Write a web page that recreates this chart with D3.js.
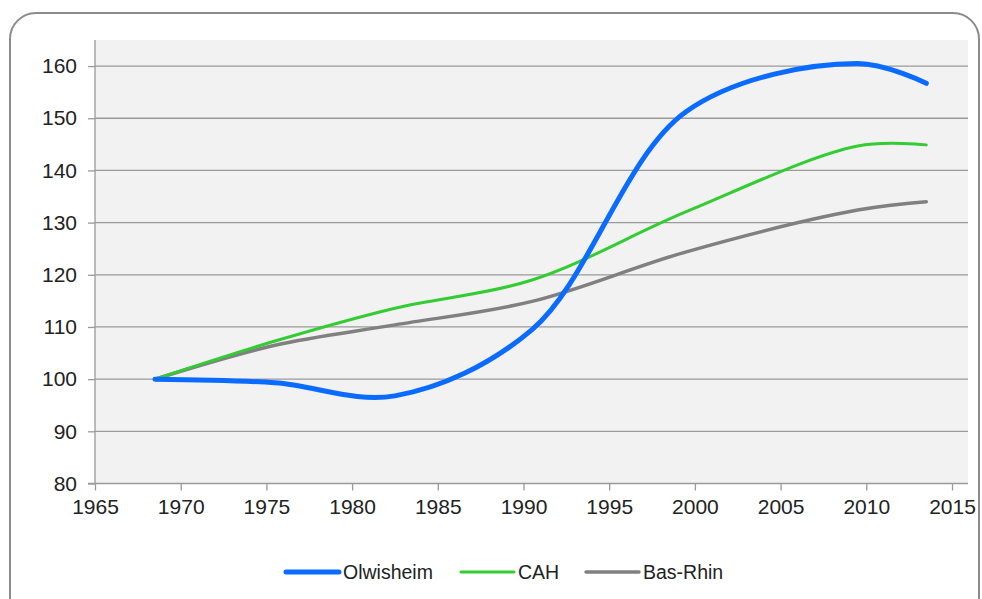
<!DOCTYPE html>
<html>
<head>
<meta charset="utf-8">
<script src="https://cdn.jsdelivr.net/npm/d3@7"></script>
<style>
  body { margin: 0; background: #fff; }
  text { font-family: "Liberation Sans", Arial, sans-serif; fill: #222; }
</style>
</head>
<body>
<div id="chart-area"></div>
<script>
// census points (placed mid-year as in the source chart), index base 100 in 1968
var years = [1968.5, 1975.5, 1982.5, 1990.5, 1999.5, 2009.5, 2013.5];
var olwisheim = [100, 99.3, 96.8, 109.5, 151.3, 160.5, 156.7];
var cah = [100, 107.3, 113.6, 119, 132.1, 144.7, 144.9];
var basRhin = [100, 106.5, 110.4, 114.9, 124.4, 132.4, 134];
var seriesNames = ['Olwisheim', 'CAH', 'Bas-Rhin'];
var seriesColors = ['#0a6cff', '#33cc33', '#808080'];
var seriesWidths = [5, 3, 3.5];
var xTicks = [1965, 1970, 1975, 1980, 1985, 1990, 1995, 2000, 2005, 2010, 2015];
var yTicks = [80, 90, 100, 110, 120, 130, 140, 150, 160];

var W = 982, H = 599;
var svg = d3.select('#chart-area').append('svg')
    .attr('width', W)
    .attr('height', H);

// outer rounded frame (bottom runs off the picture)
svg.append('rect')
    .attr('x', 10).attr('y', 13)
    .attr('width', 969).attr('height', 640)
    .attr('rx', 26).attr('ry', 26)
    .attr('fill', '#fff')
    .attr('stroke', '#8c8c8c')
    .attr('stroke-width', 2);

var x = d3.scaleLinear().domain([1965, 2015]).range([95, 952]);
var y = d3.scaleLinear().domain([80, 165]).range([483.5, 40]);

// plot background
svg.append('rect')
    .attr('x', 95).attr('y', y(165))
    .attr('width', 968 - 95).attr('height', y(80) - y(165))
    .attr('fill', '#f2f2f2');

// horizontal grid
svg.selectAll('.grid').data(yTicks.filter(d => d > 80)).enter().append('line')
    .attr('x1', 95).attr('x2', 968)
    .attr('y1', d => y(d)).attr('y2', d => y(d))
    .attr('stroke', '#9a9a9a')
    .attr('stroke-width', 1.3);

// y axis
var yAxis = svg.append('g')
    .attr('transform', 'translate(95,0)')
    .call(d3.axisLeft(y).tickValues(yTicks).tickSize(7).tickPadding(11));
yAxis.select('.domain').attr('stroke', '#9a9a9a').attr('stroke-width', 1.3)
    .attr('d', 'M0,' + y(165) + 'V' + y(80));
yAxis.selectAll('.tick line').attr('stroke', '#9a9a9a').attr('stroke-width', 1.3);
yAxis.selectAll('text').style('font-size', '21px').attr('fill', '#1a1a1a');

// x axis
var xAxis = svg.append('g')
    .attr('transform', 'translate(0,' + y(80) + ')')
    .call(d3.axisBottom(x).tickValues(xTicks).tickFormat(d3.format('d')).tickSize(7).tickPadding(9));
xAxis.select('.domain').attr('stroke', '#9a9a9a').attr('stroke-width', 1.3)
    .attr('d', 'M' + (x(1965) - 7) + ',0H968');
xAxis.selectAll('.tick line').attr('stroke', '#9a9a9a').attr('stroke-width', 1.3);
xAxis.selectAll('text').style('font-size', '21px').attr('fill', '#1a1a1a');

// lines
var allSeries = [olwisheim, cah, basRhin];
var line = d3.line()
    .x((d, i) => x(years[i]))
    .y(d => y(d))
    .curve(d3.curveCatmullRom);

// draw gray first, blue last on top
[2, 1, 0].forEach(k => {
    svg.append('path')
        .datum(allSeries[k])
        .attr('d', line)
        .attr('fill', 'none')
        .attr('stroke', seriesColors[k])
        .attr('stroke-width', seriesWidths[k])
        .attr('stroke-linecap', 'round')
        .attr('stroke-linejoin', 'round');
});

// legend
var legendX = [286, 461, 586];
var legend = svg.selectAll('.legend').data(seriesNames).enter().append('g')
    .attr('transform', (d, i) => 'translate(' + legendX[i] + ',572)');
legend.append('line')
    .attr('x1', 0).attr('x2', 53)
    .attr('stroke', (d, i) => seriesColors[i])
    .attr('stroke-width', (d, i) => seriesWidths[i])
    .attr('stroke-linecap', 'round');
legend.append('text')
    .attr('x', 57).attr('y', 7)
    .style('font-size', '19.5px')
    .attr('fill', '#1a1a1a')
    .text(d => d);
</script>
</body>
</html>
